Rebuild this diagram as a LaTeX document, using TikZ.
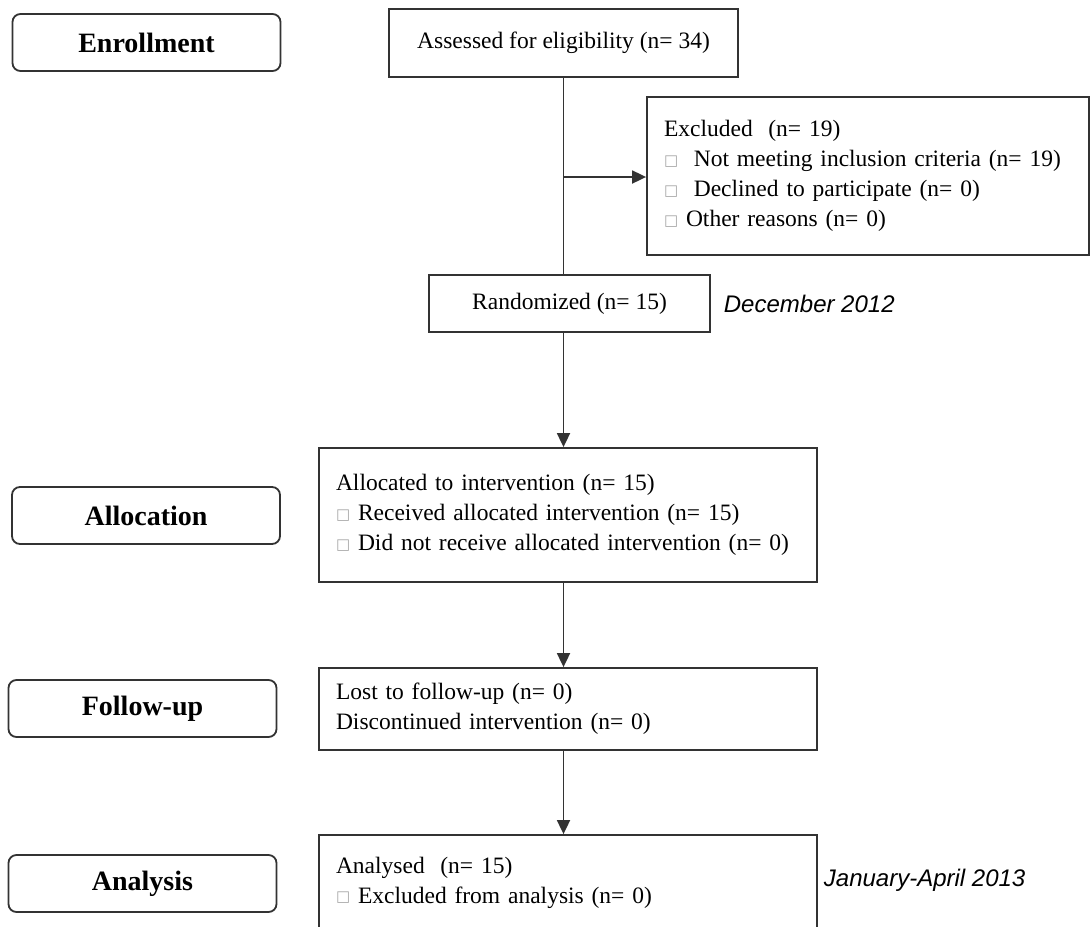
\documentclass[tikz,border=0pt]{standalone}
\usepackage{fontspec}
\setmainfont{Liberation Serif}
\newfontfamily\arialfont{Liberation Sans}
\newfontfamily\dejavu{DejaVu Sans}
\usetikzlibrary{arrows.meta}
\newcommand{\sqmark}{\raisebox{1.5pt}{\dejavu\fontsize{15}{15}\selectfont\color{black!35}□}}

\begin{document}
\begin{tikzpicture}[x=1pt,y=-1pt,>={Triangle[length=14pt,width=13pt]},line width=1.8pt,
  phase/.style={draw=black!80,rounded corners=8pt,minimum width=268pt,minimum height=57pt,inner sep=0pt,font=\fontsize{28}{30}\selectfont\bfseries},
  stepbox/.style={draw=black!80,minimum height=57pt,inner sep=0pt,font=\fontsize{23.5}{30}\selectfont},
  listbox/.style={draw=black!80,align=left,inner xsep=17pt,inner ysep=0pt,font=\fontsize{23.5}{30}\selectfont},
  datenote/.style={anchor=west,inner sep=0pt,font=\arialfont\itshape\fontsize{24}{28}\selectfont},
  flow/.style={draw=black!80}]

\clip (0,0) rectangle (1091,926);

% phases
\node[phase] (enrol) at (146.5,42.5) {Enrollment};
\node[phase] (alloc) at (146,515.5) {Allocation};
\node[phase] (follow) at (142.5,708.5) {Follow-up};
\node[phase] (analysis) at (142.5,883.5) {Analysis};

% boxes
\node[stepbox,minimum width=349pt,minimum height=68pt] (assess) at (563.5,43) {Assessed for eligibility (n= 34)};
\node[listbox,text width=408pt,minimum height=158pt] (excl) at (868,176) {Excluded~~(n= 19)\\
  \sqmark~~Not meeting inclusion criteria (n= 19)\\
  \sqmark~~Declined to participate (n= 0)\\
  \sqmark~Other reasons (n= 0)};
\node[stepbox,minimum width=281pt] (rand) at (569.5,303.5) {Randomized (n= 15)};
\node[datenote] (dec) at (723,303.5) {December 2012};
\node[listbox,text width=464pt,minimum height=134pt] (allocbox) at (568,515) {Allocated to intervention (n= 15)\\
  \sqmark~Received allocated intervention (n= 15)\\
  \sqmark~Did not receive allocated intervention (n= 0)};
\node[listbox,text width=464pt,minimum height=82pt] (lost) at (568,709) {Lost to follow-up (n= 0)\\
  Discontinued intervention (n= 0)};
\node[listbox,text width=464pt,minimum height=95pt] (analysed) at (568,882.5) {Analysed~~(n= 15)\\
  \sqmark~Excluded from analysis (n= 0)};
\node[datenote] (jan) at (823,880) {January-April 2013};

% connectors
\coordinate (split) at (563.5,177);
\draw[flow] (assess.south) -- (assess.south |- rand.north);
\draw[flow,->] (split) -- (split -| excl.west);
\draw[flow,->] (assess.south |- rand.south) -- (assess.south |- allocbox.north);
\draw[flow,->] (assess.south |- allocbox.south) -- (assess.south |- lost.north);
\draw[flow,->] (assess.south |- lost.south) -- (assess.south |- analysed.north);

\end{tikzpicture}
\end{document}
